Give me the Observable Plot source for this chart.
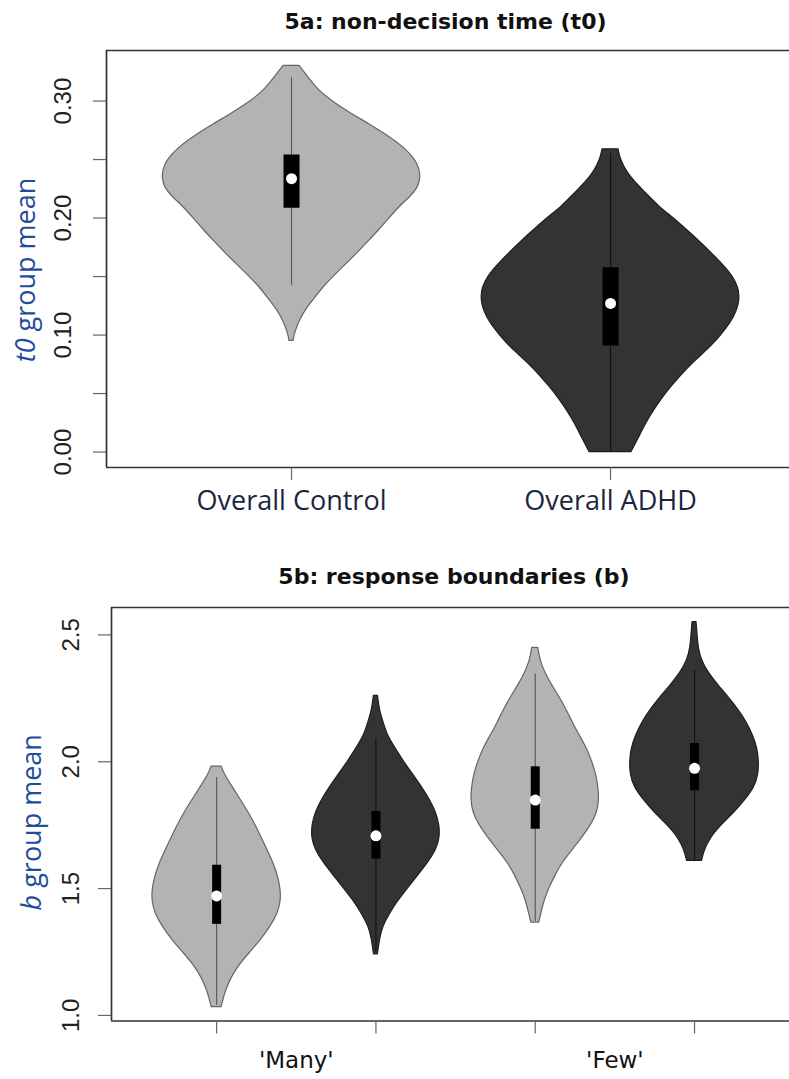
<!DOCTYPE html>
<html><head><meta charset="utf-8">
<script src="https://cdn.jsdelivr.net/npm/d3@7"></script>
<script src="https://cdn.jsdelivr.net/npm/@observablehq/plot@0.6"></script>
<style>
html,body{margin:0;padding:0;background:#fff;overflow:hidden;}
#wrap{position:relative;width:789px;height:1079px;overflow:hidden;background:#fff;}
.title{position:absolute;text-align:center;font-family:"DejaVu Sans",sans-serif;font-weight:bold;font-size:22px;line-height:26px;color:#111;white-space:nowrap;}
.chart{position:absolute;left:0;}
</style></head><body>
<div id="wrap">
<div class="title" style="top:9px;left:104px;width:683px">5a: non-decision time (t0)</div>
<div class="chart" id="chartA" style="top:40px"></div>
<div class="title" style="top:564px;left:111px;width:686px">5b: response boundaries (b)</div>
<div class="chart" id="chartB" style="top:590px"></div>
</div>
<script>
// ---------- Panel 5a data ----------
const groupsA = ["Overall Control", "Overall ADHD"];
const posA = [1, 2];
// violin outlines: value and relative density (1 = widest)
const ctrlA_val = [0.330, 0.320, 0.310, 0.300, 0.290, 0.280, 0.270, 0.260, 0.250, 0.242, 0.234, 0.226, 0.218, 0.210, 0.200, 0.190, 0.180, 0.170, 0.160, 0.150, 0.140, 0.130, 0.120, 0.110, 0.100, 0.095];
const ctrlA_den = [0.062, 0.132, 0.202, 0.310, 0.450, 0.605, 0.752, 0.875, 0.958, 0.992, 1.000, 0.982, 0.922, 0.840, 0.760, 0.682, 0.597, 0.512, 0.419, 0.326, 0.240, 0.171, 0.101, 0.054, 0.023, 0.016];
const adhdA_val = [0.2587, 0.250, 0.240, 0.230, 0.220, 0.210, 0.200, 0.190, 0.180, 0.170, 0.160, 0.150, 0.140, 0.133, 0.125, 0.115, 0.105, 0.095, 0.085, 0.075, 0.065, 0.055, 0.045, 0.035, 0.025, 0.015, 0.005, 0.0];
const adhdA_den = [0.062, 0.078, 0.124, 0.194, 0.287, 0.372, 0.488, 0.589, 0.690, 0.783, 0.872, 0.950, 0.992, 1.000, 0.993, 0.958, 0.895, 0.822, 0.729, 0.628, 0.543, 0.465, 0.395, 0.333, 0.279, 0.233, 0.186, 0.163];
const whiskerLoA = [0.142, 0.0];
const whiskerHiA = [0.320, 0.255];
const q1A = [0.2083, 0.0906];
const q3A = [0.2538, 0.1575];
const medianA = [0.2336, 0.127];
const yTicksA = [0, 0.05, 0.10, 0.15, 0.20, 0.25, 0.30];
const yLabelsA = [0, 0.10, 0.20, 0.30];

// ---------- Panel 5b data ----------
const posB = [1, 2, 3, 4];
const groupB = ["Control", "ADHD", "Control", "ADHD"];
const xLabelsB = ["'Many'", "'Few'"];
const xLabelPosB = [1.5, 3.5];
const v1_val = [1.981, 1.95, 1.90, 1.85, 1.80, 1.75, 1.70, 1.65, 1.60, 1.55, 1.50, 1.45, 1.40, 1.35, 1.30, 1.25, 1.20, 1.15, 1.10, 1.05, 1.033];
const v1_den = [0.078, 0.124, 0.248, 0.372, 0.496, 0.605, 0.698, 0.791, 0.884, 0.950, 0.994, 1.000, 0.950, 0.837, 0.698, 0.527, 0.357, 0.233, 0.147, 0.093, 0.078];
const v2_val = [2.26, 2.20, 2.15, 2.10, 2.05, 2.00, 1.95, 1.90, 1.85, 1.80, 1.75, 1.70, 1.65, 1.60, 1.55, 1.50, 1.45, 1.40, 1.35, 1.30, 1.241];
const v2_den = [0.031, 0.062, 0.124, 0.186, 0.310, 0.434, 0.574, 0.713, 0.837, 0.935, 0.988, 0.995, 0.935, 0.806, 0.651, 0.496, 0.341, 0.217, 0.109, 0.062, 0.031];
const v3_val = [2.449, 2.40, 2.35, 2.30, 2.25, 2.20, 2.15, 2.10, 2.05, 2.00, 1.95, 1.90, 1.85, 1.80, 1.75, 1.70, 1.65, 1.60, 1.55, 1.50, 1.45, 1.40, 1.366];
const v3_den = [0.047, 0.078, 0.155, 0.264, 0.388, 0.496, 0.589, 0.698, 0.806, 0.884, 0.946, 0.980, 0.995, 0.965, 0.868, 0.729, 0.574, 0.419, 0.310, 0.217, 0.140, 0.093, 0.062];
const v4_val = [2.55, 2.50, 2.45, 2.40, 2.35, 2.30, 2.25, 2.20, 2.15, 2.10, 2.05, 2.00, 1.95, 1.90, 1.85, 1.80, 1.75, 1.70, 1.65, 1.609];
const v4_den = [0.031, 0.047, 0.062, 0.109, 0.217, 0.372, 0.543, 0.698, 0.822, 0.915, 0.980, 1.000, 0.995, 0.935, 0.791, 0.620, 0.419, 0.248, 0.155, 0.116];
const whiskerLoB = [1.04, 1.25, 1.37, 1.61];
const whiskerHiB = [1.938, 2.09, 2.346, 2.36];
const q1B = [1.359, 1.616, 1.734, 1.886];
const q3B = [1.592, 1.804, 1.980, 2.072];
const medianB = [1.471, 1.708, 1.849, 1.974];
const yTicksB = [1.0, 1.5, 2.0, 2.5];

// ---------- styles ----------
const maxHalfWidth = 0.405; // widest violin half-width, in group units
const fillOf = {Control: "#b3b3b3", ADHD: "#333333"};
const strokeOf = {Control: "#666666", ADHD: "#1e1e1e"};
const whiskerOf = {Control: "#555555", ADHD: "#111111"};
const axisFont = "Liberation Sans, Arial, sans-serif";
const labelFont = "Open Sans, sans-serif";

function rows(pos, vals, dens) {
  return vals.map((v, i) => ({pos, v, hw: maxHalfWidth * dens[i]}));
}
function violin(pos, vals, dens, group) {
  return Plot.areaX(rows(pos, vals, dens), {
    y: "v", x1: d => d.pos - d.hw, x2: d => d.pos + d.hw,
    fill: fillOf[group], stroke: strokeOf[group], strokeWidth: 1.2, curve: "basis"
  });
}
function stats(pos, groups, lo, hi, q1, q3, med) {
  return pos.map((p, i) => ({pos: p, group: groups[i], lo: lo[i], hi: hi[i], q1: q1[i], q3: q3[i], med: med[i]}));
}
function boxMarks(st, boxW) {
  return [
    Plot.ruleX(st, {x: "pos", y1: "lo", y2: "hi", stroke: d => whiskerOf[d.group], strokeWidth: 1.1}),
    Plot.ruleX(st, {x: "pos", y1: "q1", y2: "q3", stroke: "#000", strokeWidth: boxW, strokeLinecap: "butt"}),
    Plot.dot(st, {x: "pos", y: "med", r: 5.5, fill: "#fff", stroke: "none"})
  ];
}
function italicize(svg, full, it) {
  svg.querySelectorAll("text").forEach(t => {
    if (t.textContent === full) {
      t.textContent = "";
      const ts = document.createElementNS("http://www.w3.org/2000/svg", "tspan");
      ts.setAttribute("font-style", "italic");
      ts.textContent = it;
      t.appendChild(ts);
      t.appendChild(document.createTextNode(full.slice(it.length)));
    }
  });
}

// ---------- Panel A ----------
const xDomA = [0.42, 0.42 + 683 / 319];
const yDomA = [-0.0132, 0.3432];
const stA = stats(posA, ["Control", "ADHD"], whiskerLoA, whiskerHiA, q1A, q3A, medianA);
const plotA = Plot.plot({
  width: 789, height: 490,
  marginLeft: 106, marginRight: 0, marginTop: 10, marginBottom: 63,
  x: {domain: xDomA, axis: null},
  y: {domain: yDomA, axis: null},
  style: {background: "transparent", overflow: "visible"},
  marks: [
    violin(1, ctrlA_val, ctrlA_den, "Control"),
    violin(2, adhdA_val, adhdA_den, "ADHD"),
    ...boxMarks(stA, 16),
    Plot.ruleY([yDomA[0], yDomA[1]], {stroke: "#333", strokeWidth: 1.7}),
    Plot.ruleX([xDomA[0]], {stroke: "#333", strokeWidth: 1.7}),
    Plot.axisY({ticks: yTicksA, tickSize: 13, tickFormat: () => "", label: null, stroke: "#666", strokeWidth: 1.2}),
    Plot.axisX({ticks: posA, tickSize: 13, tickFormat: () => "", label: null, stroke: "#666", strokeWidth: 1.2}),
    Plot.text(yLabelsA, {y: d => d, text: d => d.toFixed(2), frameAnchor: "left", dx: -43, rotate: -90,
      textAnchor: "middle", lineAnchor: "middle", fontSize: 24, fontFamily: axisFont, fill: "#222"}),
    Plot.text(groupsA, {x: (d, i) => posA[i], text: d => d, frameAnchor: "bottom", dy: 34,
      textAnchor: "middle", lineAnchor: "middle", fontSize: 27, fontFamily: labelFont, fill: "#1c2540"}),
    Plot.text(["t0 group mean"], {text: d => d, frameAnchor: "left", dx: -80, dy: 11, rotate: -90,
      textAnchor: "middle", lineAnchor: "middle", fontSize: 27, fontFamily: labelFont, fill: "#1f4d9c"})
  ]
});
italicize(plotA, "t0 group mean", "t0");
document.getElementById("chartA").appendChild(plotA);

// ---------- Panel B ----------
const xDomB = [0.34, 0.34 + 678 / 159.3];
const yDomB = [0.978, 2.608];
const stB = stats(posB, groupB, whiskerLoB, whiskerHiB, q1B, q3B, medianB);
const plotB = Plot.plot({
  width: 789, height: 489,
  marginLeft: 111, marginRight: 0, marginTop: 17, marginBottom: 58.5,
  x: {domain: xDomB, axis: null},
  y: {domain: yDomB, axis: null},
  style: {background: "transparent", overflow: "visible"},
  marks: [
    violin(1, v1_val, v1_den, "Control"),
    violin(2, v2_val, v2_den, "ADHD"),
    violin(3, v3_val, v3_den, "Control"),
    violin(4, v4_val, v4_den, "ADHD"),
    ...boxMarks(stB, 9),
    Plot.ruleY([yDomB[0], yDomB[1]], {stroke: "#333", strokeWidth: 1.7}),
    Plot.ruleX([xDomB[0]], {stroke: "#333", strokeWidth: 1.7}),
    Plot.axisY({ticks: yTicksB, tickSize: 13, tickFormat: () => "", label: null, stroke: "#666", strokeWidth: 1.2}),
    Plot.axisX({ticks: posB, tickSize: 13, tickFormat: () => "", label: null, stroke: "#666", strokeWidth: 1.2}),
    Plot.text(yTicksB, {y: d => d, text: d => d.toFixed(1), frameAnchor: "left", dx: -40, rotate: -90,
      textAnchor: "middle", lineAnchor: "middle", fontSize: 24, fontFamily: axisFont, fill: "#222"}),
    Plot.text(xLabelsB, {x: (d, i) => xLabelPosB[i], text: d => d, frameAnchor: "bottom", dy: 40,
      textAnchor: "middle", lineAnchor: "middle", fontSize: 23, fontFamily: "DejaVu Sans, sans-serif", fill: "#111"}),
    Plot.text(["b group mean"], {text: d => d, frameAnchor: "left", dx: -79, dy: 8, rotate: -90,
      textAnchor: "middle", lineAnchor: "middle", fontSize: 27, fontFamily: labelFont, fill: "#1f4d9c"})
  ]
});
italicize(plotB, "b group mean", "b");
document.getElementById("chartB").appendChild(plotB);
</script>
</body></html>
